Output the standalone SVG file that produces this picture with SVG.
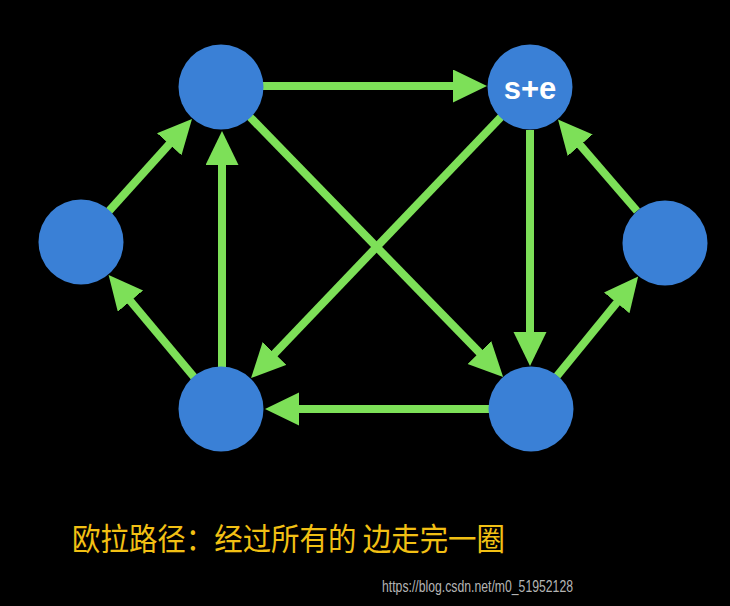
<svg xmlns="http://www.w3.org/2000/svg" width="730" height="606" viewBox="0 0 730 606">
<defs>
<style>
.edge{stroke:#7de058;stroke-width:8;fill:none;marker-end:url(#ah)}
.node{fill:#3a80d6}
.lbl{fill:#fff;font-family:"Liberation Sans",Arial,sans-serif;font-weight:bold;font-size:31px;text-anchor:middle}
.cap{fill:#f2c014;font-family:"Noto Sans CJK SC",sans-serif;font-size:31px}
.wm{fill:#b4b4b4;font-family:"Liberation Sans",Arial,sans-serif;font-size:17px}
</style>
<marker id="ah" markerUnits="userSpaceOnUse" markerWidth="40" markerHeight="40" refX="4" refY="16.5" orient="auto">
<path d="M0,0 L34,16.5 L0,33 z" fill="#7de058"/>
</marker>
</defs>
<rect width="730" height="606" fill="#000"/>
<g id="connectors">
<line class="edge" x1="263" y1="86" x2="457" y2="86"/>
<line class="edge" x1="109" y1="211" x2="171.9" y2="141.3"/>
<line class="edge" x1="222" y1="367" x2="222" y2="161"/>
<line class="edge" x1="194" y1="377" x2="127.9" y2="298"/>
<line class="edge" x1="250" y1="117" x2="482.2" y2="355.4"/>
<line class="edge" x1="501" y1="117" x2="271.8" y2="356.4"/>
<line class="edge" x1="530" y1="130" x2="530" y2="336"/>
<line class="edge" x1="489" y1="409" x2="295" y2="409"/>
<line class="edge" x1="557" y1="376" x2="619.2" y2="299.8"/>
<line class="edge" x1="637" y1="211" x2="577.6" y2="142.2"/>
</g>
<g id="nA"><circle class="node" cx="221" cy="87" r="42.5"/></g>
<g id="nB"><circle class="node" cx="530" cy="87" r="42.5"/><text class="lbl" x="530" y="99">s+e</text></g>
<g id="nC"><circle class="node" cx="81" cy="242" r="42.5"/></g>
<g id="nD"><circle class="node" cx="665" cy="243" r="42.5"/></g>
<g id="nE"><circle class="node" cx="221" cy="409" r="42.5"/></g>
<g id="nF"><circle class="node" cx="531" cy="409" r="42.5"/></g>
<text class="cap" x="72" y="550" textLength="433" lengthAdjust="spacingAndGlyphs">欧拉路径：经过所有的 边走完一圈</text>
<text class="wm" x="382" y="592" textLength="191" lengthAdjust="spacingAndGlyphs">https://blog.csdn.net/m0_51952128</text>
</svg>
